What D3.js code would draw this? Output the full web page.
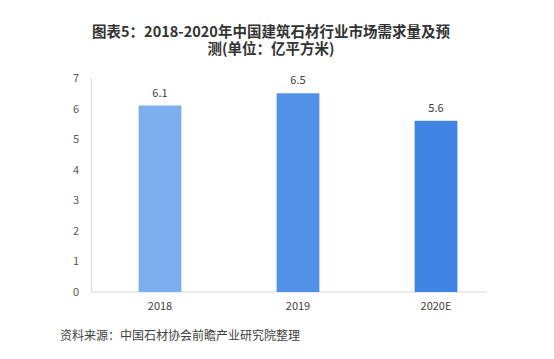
<!DOCTYPE html>
<html><head><meta charset="utf-8">
<script src="https://cdn.jsdelivr.net/npm/d3@7"></script>
<style>body{margin:0;background:#fff}svg{display:block}</style>
</head><body><svg id="c" width="554" height="359"></svg>
<script>
const categories = ["2018", "2019", "2020E"];
const values = [6.1, 6.5, 5.6];
const barColors = ["#7DAEF0", "#5391E6", "#4085E3"];
const yTicks = [0, 1, 2, 3, 4, 5, 6, 7];
const titleLines = ["图表5：2018-2020年中国建筑石材行业市场需求量及预", "测(单位：亿平方米)"];
const sourceText = "资料来源：中国石材协会前瞻产业研究院整理";

const svg = d3.select("#c");
const font = "'Microsoft YaHei','Noto Sans CJK SC',sans-serif";

const x = d3.scaleBand().domain(categories).range([91, 505]).padding(0);
const y = d3.scaleLinear().domain([0, 7]).range([292, 78]);
const bw = x.bandwidth() * 0.31;

// title (one text element, two lines)
svg.append("text")
  .attr("text-anchor", "middle").attr("font-family", font)
  .attr("font-weight", "bold").attr("font-size", 14.5).attr("fill", "#333")
  .selectAll("tspan").data(titleLines).join("tspan")
  .attr("x", 271).attr("y", (d, i) => 37 + i * 17)
  .text(d => d);

// y axis
const yAxis = svg.append("g").attr("transform", "translate(91,0)")
  .call(d3.axisLeft(y).tickValues(yTicks).tickSize(0).tickPadding(12).tickFormat(d3.format("d")));
yAxis.select(".domain").attr("stroke", "#d9d9d9");
yAxis.selectAll("text").attr("font-family", font).attr("font-size", 11).attr("fill", "#595959");

// x axis baseline
svg.append("line").attr("x1", 91).attr("x2", 487).attr("y1", y(0)).attr("y2", y(0))
  .attr("stroke", "#d9d9d9");

// bars
svg.append("g").selectAll("rect").data(values).join("rect")
  .attr("x", (d, i) => x(categories[i]) + x.bandwidth() / 2 - bw / 2)
  .attr("width", bw)
  .attr("y", d => y(d)).attr("height", d => y(0) - y(d))
  .attr("fill", (d, i) => barColors[i]);

// value labels
svg.append("g").selectAll("text").data(values).join("text")
  .attr("x", (d, i) => x(categories[i]) + x.bandwidth() / 2)
  .attr("y", d => y(d) - 9)
  .attr("text-anchor", "middle").attr("font-family", font)
  .attr("font-size", 11).attr("fill", "#404040")
  .text(d => d.toFixed(1));

// x labels
svg.append("g").selectAll("text").data(categories).join("text")
  .attr("x", d => x(d) + x.bandwidth() / 2).attr("y", 310)
  .attr("text-anchor", "middle").attr("font-family", font)
  .attr("font-size", 11).attr("fill", "#404040")
  .text(d => d);

// source
svg.append("text").attr("x", 60).attr("y", 340)
  .attr("font-family", font).attr("font-size", 12).attr("fill", "#404040")
  .text(sourceText);
</script></body></html>
